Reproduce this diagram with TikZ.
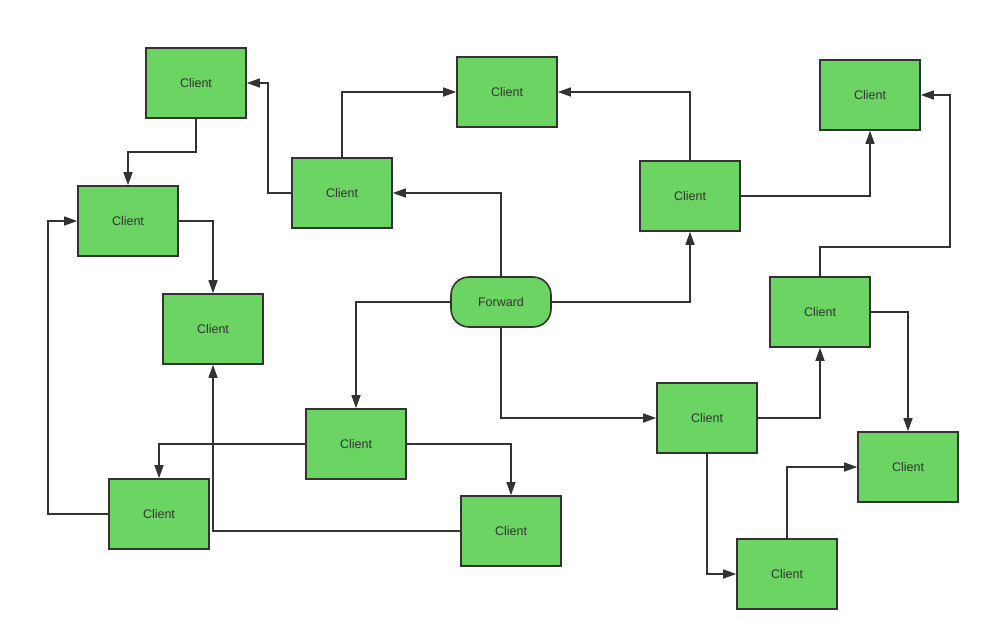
\documentclass[tikz,border=0pt]{standalone}
\usepackage{fontspec}
\setmainfont{Liberation Sans}
\usetikzlibrary{arrows.meta}
\definecolor{boxgreen}{HTML}{6CD463}
\definecolor{ink}{HTML}{333333}
\begin{document}
\begin{tikzpicture}[x=1pt,y=-1pt,
  client/.style={draw=ink,line width=1.6pt,fill=boxgreen,minimum width=100pt,minimum height=70pt,inner sep=0pt,font=\fontsize{12.5pt}{14pt}\selectfont,text=ink},
  fwd/.style={client,minimum height=50pt,rounded corners=18pt},
  link/.style={draw=ink,line width=1.4pt,-{Triangle[length=13pt,width=9pt]}}]
\useasboundingbox (0,0) rectangle (990,641);
\node[client] (c1) at (196,83) {Client};
\node[client] (c2) at (128,221) {Client};
\node[client] (c3) at (213,329) {Client};
\node[client] (c4) at (342,193) {Client};
\node[client] (c5) at (507,92) {Client};
\node[client] (c6) at (690,196) {Client};
\node[client] (c7) at (870,95) {Client};
\node[fwd] (fw) at (501,302) {Forward};
\node[client] (c8) at (820,312) {Client};
\node[client] (c9) at (356,444) {Client};
\node[client] (c10) at (159,514) {Client};
\node[client] (c11) at (511,531) {Client};
\node[client] (c12) at (707,418) {Client};
\node[client] (c13) at (908,467) {Client};
\node[client] (c14) at (787,574) {Client};
\draw[link] (fw.north) |- (c4.east);
\draw[link] (fw.west) -| (c9.north);
\draw[link] (fw.east) -| (c6.south);
\draw[link] (fw.south) |- (c12.west);
\draw[link] (c4.west) -- (268,193) |- (c1.east);
\draw[link] (c4.north) |- (c5.west);
\draw[link] (c6.north) |- (c5.east);
\draw[link] (c6.east) -| (c7.south);
\draw[link] (c1.south) -- (196,152) -| (c2.north);
\draw[link] (c2.east) -| (c3.north);
\draw[link] (c10.west) -- (48,514) |- (c2.west);
\draw[link] (c11.west) -| (c3.south);
\draw[link] (c9.west) -| (c10.north);
\draw[link] (c9.east) -| (c11.north);
\draw[link] (c8.north) -- (820,247) -- (950,247) |- (c7.east);
\draw[link] (c8.east) -| (c13.north);
\draw[link] (c12.east) -| (c8.south);
\draw[link] (c12.south) |- (c14.west);
\draw[link] (c14.north) |- (c13.west);
\end{tikzpicture}
\end{document}
